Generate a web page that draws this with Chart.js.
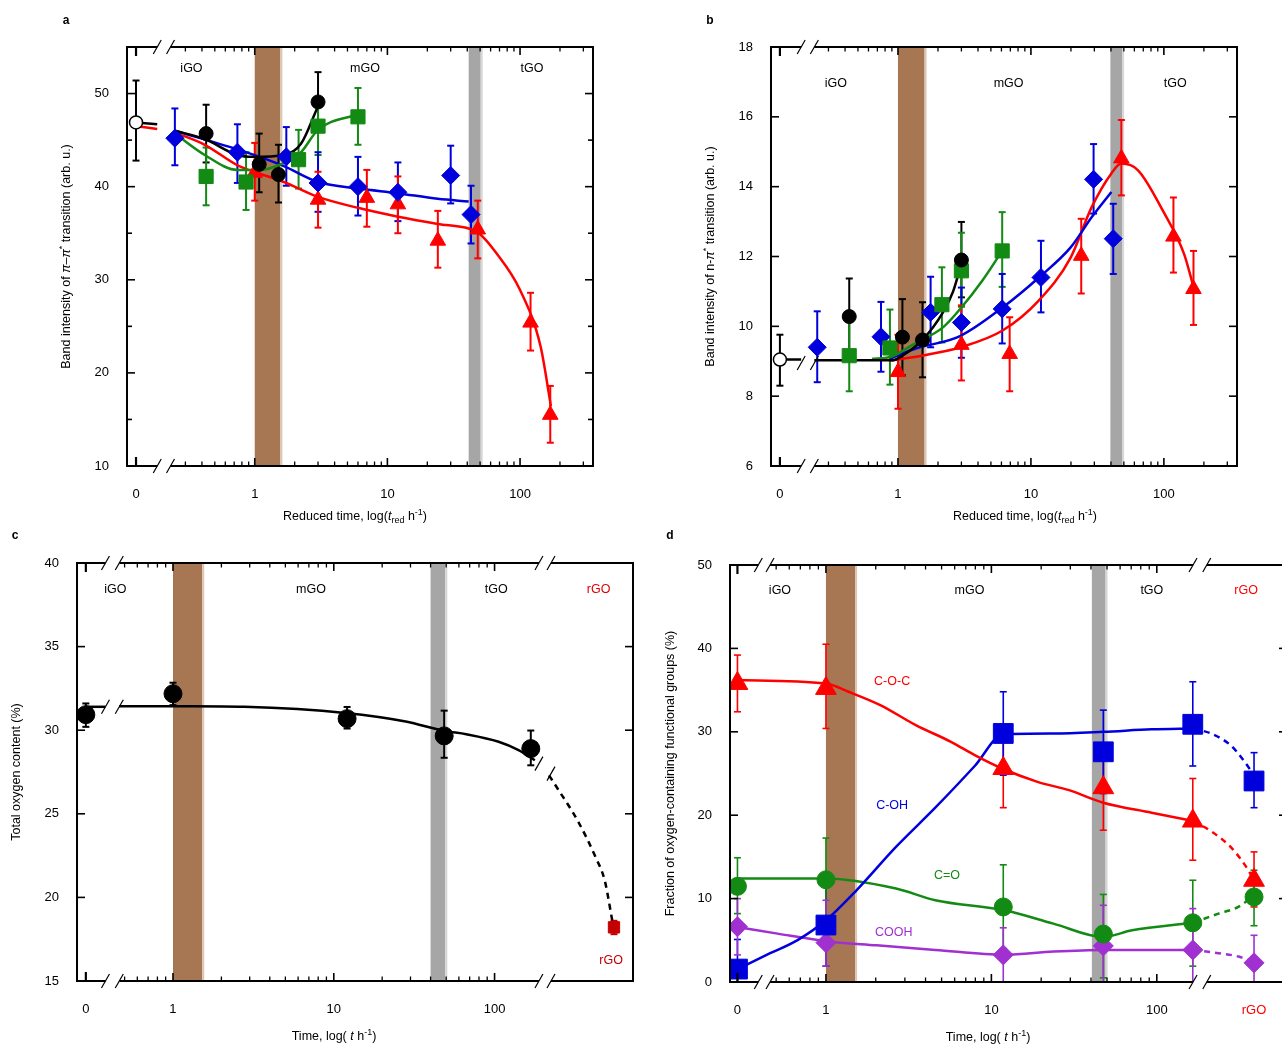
<!DOCTYPE html>
<html>
<head>
<meta charset="utf-8">
<title>GO reduction</title>
<script src="https://cdn.jsdelivr.net/npm/chart.js@4.4.1/dist/chart.umd.min.js"></script>
<style>
  html, body { margin: 0; padding: 0; background: #fff; }
  body { width: 1282px; height: 1047px; overflow: hidden; position: relative; }
  canvas { position: absolute; }
</style>
</head>
<body>
<script>
const FONT = "'Liberation Sans', Arial, Helvetica, sans-serif";
const BLACK = '#000000', RED = '#ff0000', BLUE = '#0000dd', GREEN = '#138a13',
      PURPLE = '#a030d0', BROWN = '#a67752', GRAY = '#a6a6a6', DARKRED = '#c40000';

// ---------- panel a : pi-pi* band intensity ----------
const aOpenT = [0], aOpenY = [46.9], aOpenLo = [42.8], aOpenHi = [51.4];
const aBlackT = [0.43, 1.08, 1.51, 3.0];
const aBlackY = [45.7, 42.4, 41.3, 49.1];
const aBlackLo = [42.6, 39.4, 38.3, 46.0];
const aBlackHi = [48.8, 45.7, 44.5, 52.3];
const aGreenT = [0.43, 0.86, 2.14, 3.0, 6.0];
const aGreenY = [41.1, 40.5, 42.9, 46.5, 47.5];
const aGreenLo = [38.0, 37.5, 39.8, 43.4, 44.5];
const aGreenHi = [44.2, 43.7, 46.1, 49.5, 50.6];
const aBlueT = [0.25, 0.74, 1.73, 3.0, 6.0, 12, 30, 42.7];
const aBlueY = [45.2, 43.7, 43.2, 40.4, 40.0, 39.4, 41.2, 37.0];
const aBlueLo = [42.3, 40.4, 40.1, 37.3, 36.9, 36.3, 38.2, 33.9];
const aBlueHi = [48.4, 46.7, 46.4, 43.7, 43.2, 42.6, 44.4, 40.1];
const aRedT = [1.0, 3.0, 7.0, 12, 24, 48, 120, 169];
const aRedY = [41.5, 38.6, 38.8, 38.1, 34.2, 35.4, 25.4, 15.5];
const aRedLo = [38.5, 35.6, 35.7, 35.0, 31.3, 32.3, 22.4, 12.5];
const aRedHi = [44.7, 41.6, 41.8, 41.1, 37.4, 38.5, 28.6, 18.6];
// guide curves
const aBlackPreT = [0, 0.184], aBlackPreY = [46.9, 46.7];
const aRedPreT = [0, 0.184], aRedPreY = [46.5, 46.2];
const aBlackFitT = [0.25, 0.42, 0.74, 0.97, 1.66, 2.23, 2.95];
const aBlackFitY = [46.0, 45.1, 43.4, 43.2, 43.4, 44.6, 48.4];
const aGreenFitT = [0.25, 0.42, 0.74, 1.09, 1.51, 2.2, 3.0, 6.0];
const aGreenFitY = [45.7, 43.4, 41.8, 41.8, 42.3, 43.6, 46.1, 47.8];
const aBlueFitT = [0.25, 0.74, 1.09, 1.66, 3.0, 6.1, 11.9, 24, 41];
const aBlueFitY = [46.0, 44.0, 43.2, 42.2, 40.5, 39.8, 39.3, 38.7, 38.4];
const aRedFitT = [0.25, 0.42, 0.74, 1.09, 1.66, 3.0, 6.1, 11.8, 24, 41, 49, 66, 100, 143, 171];
const aRedFitY = [45.8, 44.5, 42.3, 41.4, 40.5, 38.9, 37.7, 36.8, 36.0, 35.5, 35.0, 32.9, 28.9, 22.8, 16.4];

// ---------- panel b : n-pi* band intensity ----------
const bOpenT = [0], bOpenY = [9.05], bOpenLo = [8.3], bOpenHi = [9.76];
const bBlackT = [0.43, 1.08, 1.53, 3.0];
const bBlackY = [10.28, 9.69, 9.61, 11.9];
const bBlackLo = [9.2, 8.6, 8.54, 10.83];
const bBlackHi = [11.37, 10.78, 10.69, 12.99];
const bGreenT = [0.43, 0.87, 2.14, 3.0, 6.08];
const bGreenY = [9.16, 9.38, 10.62, 11.59, 12.16];
const bGreenLo = [8.14, 8.33, 9.54, 10.56, 11.13];
const bGreenHi = [10.2, 10.48, 11.69, 12.68, 13.27];
const bBlueT = [0.247, 0.745, 1.76, 3.0, 6.08, 11.9, 29.6, 41.6];
const bBlueY = [9.4, 9.7, 10.4, 10.11, 10.5, 11.4, 14.21, 12.51];
const bBlueLo = [8.4, 8.7, 9.4, 9.1, 9.51, 10.4, 13.23, 11.5];
const bBlueHi = [10.43, 10.7, 11.42, 11.11, 11.5, 12.45, 15.22, 13.51];
const bRedT = [1.0, 3.0, 6.92, 23.9, 47.9, 118, 167];
const bRedY = [8.69, 9.47, 9.21, 12.02, 14.81, 12.57, 11.07];
const bRedLo = [7.64, 8.45, 8.14, 10.94, 13.75, 11.54, 10.04];
const bRedHi = [9.76, 10.6, 10.26, 13.08, 15.91, 13.69, 12.16];
const bBlackPreT = [0, 0.187], bBlackPreY = [9.05, 9.05];
const bBlackFitT = [0.235, 0.92, 1.08, 1.51, 2.18, 2.6, 3.0];
const bBlackFitY = [9.03, 9.03, 9.16, 9.59, 10.4, 11.0, 11.8];
const bGreenFitT = [0.64, 0.87, 1.33, 2.18, 3.0, 4.29, 6.08];
const bGreenFitY = [9.07, 9.12, 9.5, 9.97, 10.54, 11.3, 12.16];
const bBlueFitT = [0.87, 1.33, 2.96, 6.12, 11.9, 19.9, 28.7, 40.3];
const bBlueFitY = [9.07, 9.35, 9.73, 10.54, 11.45, 12.26, 13.13, 13.85];
const bRedFitT = [0.87, 1.51, 2.96, 6.12, 11.4, 19.9, 28.7, 40.3, 47.9, 63.9, 98, 142, 170];
const bRedFitY = [9.02, 9.16, 9.4, 9.88, 10.73, 11.97, 13.42, 14.38, 14.66, 14.47, 13.32, 12.07, 11.02];

// ---------- panel c : total oxygen content ----------
const RGO_C = 553;
const cT = [0, 1, 12.1, 48.6, 168];
const cY = [30.93, 32.18, 30.69, 29.66, 28.9];
const cLo = [30.2, 31.5, 30.1, 28.35, 27.9];
const cHi = [31.6, 32.84, 31.39, 31.17, 29.98];
const cRgoY = [18.21], cRgoLo = [17.8], cRgoHi = [18.6];
const cPreT = [0, 0.38], cPreY = [31.4, 31.4];
const cFitT = [0.463, 1.31, 2.78, 11.8, 28, 48.6, 66.7, 106, 141, 178];
const cFitY = [31.43, 31.43, 31.4, 31.03, 30.52, 29.96, 29.76, 29.31, 28.81, 28.2];
const cTailT = [218, 247, 330, 426, 485, 540];
const cTailY = [27.3, 26.5, 24.56, 22.38, 20.99, 18.6];

// ---------- panel d : oxygen functional groups ----------
const RGO_D = 387;
const dT = [0, 1, 11.8, 47.5, 165, RGO_D];
const cocY = [35.8, 35.2, 25.6, 23.3, 19.3, 12.2];
const cocLo = [32.4, 30.4, 20.9, 18.2, 14.6, 9.0];
const cocHi = [39.2, 40.5, 29.5, 27.8, 24.4, 15.6];
const cohY = [1.55, 6.83, 29.8, 27.6, 30.9, 24.1];
const cohLo = [0, 1.9, 24.8, 22.6, 25.9, 20.9];
const cohHi = [5.1, 11.8, 34.8, 32.6, 36.0, 27.5];
const coY = [11.47, 12.26, 9.0, 5.75, 7.1, 10.2];
const coLo = [8.2, 7.0, 4.0, 0.5, 1.9, 6.75];
const coHi = [14.9, 17.26, 14.05, 10.5, 12.2, 13.4];
const coohY = [6.63, 4.72, 3.25, 4.33, 3.85, 2.3];
const coohLo = [3.25, 1.9, 0, 0, 0, 0];
const coohHi = [10.0, 9.8, 6.5, 9.2, 8.8, 5.6];
const dRedFitT = [0, 1, 1.37, 2.13, 3.49, 5.7, 7.93, 11.6, 19, 29.5, 47.5, 93, 166];
const dRedFitY = [36.2, 35.8, 34.8, 33.2, 30.8, 28.8, 27.2, 25.6, 24.0, 23.0, 21.5, 20.3, 19.3];
const dRedTailT = [166, 212, 279, 347, 387], dRedTailY = [19.3, 18.1, 16.2, 13.8, 12.2];
const dBlueFitT = [0, 0.46, 0.67, 1, 1.53, 2.65, 4.58, 7.93, 11.8, 23.7, 47.5, 93, 166];
const dBlueFitY = [1.55, 3.45, 5.0, 7.4, 11.0, 16.2, 20.9, 25.9, 29.7, 29.8, 30.0, 30.3, 30.4];
const dBlueTailT = [166, 212, 279, 328, 387], dBlueTailY = [30.4, 29.8, 28.4, 26.8, 24.8];
const dGreenFitT = [0, 1, 2.65, 4.58, 12, 23.7, 47.5, 70.8, 166];
const dGreenFitY = [12.4, 12.4, 11.2, 9.8, 8.6, 7.0, 5.4, 6.2, 7.1];
const dGreenTailT = [166, 236, 311, 387], dGreenTailY = [7.1, 8.2, 9.0, 10.4];
const dPurpleFitT = [0, 0.51, 1, 2.02, 4.58, 12, 23.7, 47.5, 166];
const dPurpleFitY = [6.6, 5.8, 4.9, 4.4, 3.85, 3.25, 3.65, 3.85, 3.85];
const dPurpleTailT = [166, 236, 311, 387], dPurpleTailY = [3.85, 3.45, 3.05, 2.34];

// tick values on the log axis
const minorAB = [0.3, 0.4, 0.5, 0.6, 0.7, 0.8, 0.9, 2, 3, 4, 5, 6, 7, 8, 9, 20, 30, 40, 50, 60, 70, 80, 90, 200, 300];
const minorCD = [0.5, 0.6, 0.7, 0.8, 0.9, 2, 3, 4, 5, 6, 7, 8, 9, 20, 30, 40, 50, 60, 70, 80, 90];
const majorT = [1, 10, 100];

// axis-space helpers (x axis is log10(t) with t = 0 placed before a break)
const YW = 75, XH = 66, PT = 45, PR = 12;

function seg(ctx, x1, y1, x2, y2) { ctx.beginPath(); ctx.moveTo(x1, y1); ctx.lineTo(x2, y2); ctx.stroke(); }
function slash(ctx, cx, cy) { seg(ctx, cx - 4, cy + 7, cx + 4, cy - 7); }

function richText(ctx, segs, cx, cy, rotate, size) {
  const fonts = { n: size + 'px ' + FONT, i: 'italic ' + size + 'px ' + FONT,
                  sub: (size * 0.72) + 'px ' + FONT, sup: (size * 0.72) + 'px ' + FONT };
  const shift = { n: 0, i: 0, sub: size * 0.32, sup: -size * 0.38 };
  ctx.save();
  ctx.translate(cx, cy);
  if (rotate) ctx.rotate(-Math.PI / 2);
  ctx.textBaseline = 'middle'; ctx.textAlign = 'left'; ctx.fillStyle = '#000';
  let total = 0;
  const ws = segs.map(([t, k]) => { ctx.font = fonts[k]; const w = ctx.measureText(t).width; total += w; return w; });
  let xx = -total / 2;
  segs.forEach(([t, k], i) => { ctx.font = fonts[k]; ctx.fillText(t, xx, shift[k]); xx += ws[i]; });
  ctx.restore();
}

const piTitle = [['Band intensity of ', 'n'], ['\u03c0', 'i'], ['\u2013', 'n'], ['\u03c0', 'i'], ['*', 'sup'], [' transition (arb. u.)', 'n']];
const npiTitle = [['Band intensity of n-', 'n'], ['\u03c0', 'i'], ['*', 'sup'], [' transition (arb. u.)', 'n']];
const redTimeTitle = [['Reduced time, log(', 'n'], ['t', 'i'], ['red', 'sub'], [' h', 'n'], ['-1', 'sup'], [')', 'n']];
const timeTitle = [['Time, log( ', 'n'], ['t', 'i'], [' h', 'n'], ['-1', 'sup'], [')', 'n']];

function panelPlugin(p) {
  return {
    id: 'panel_' + p.id,
    beforeDatasetsDraw(chart) {
      const { ctx, chartArea: ca, scales: { x, y } } = chart;
      ctx.save();
      p.bands.forEach(([t1, t2, col, edge]) => {
        const x1 = x.getPixelForValue(p.ux(t1)), x2 = x.getPixelForValue(p.ux(t2));
        ctx.fillStyle = col; ctx.fillRect(x1, ca.top, x2 - x1, ca.bottom - ca.top);
        ctx.fillStyle = edge; ctx.fillRect(x2, ca.top, 2, ca.bottom - ca.top);
      });
      p.errs.forEach(e => {
        ctx.strokeStyle = e.color; ctx.lineWidth = p.errW;
        e.t.forEach((t, i) => {
          const px = x.getPixelForValue(p.ux(t));
          const lo = Math.max(e.lo[i], y.min);
          const yl = y.getPixelForValue(lo), yh = y.getPixelForValue(e.hi[i]);
          seg(ctx, px, yl, px, yh);
          if (e.lo[i] > y.min) seg(ctx, px - p.cap, yl, px + p.cap, yl);
          seg(ctx, px - p.cap, yh, px + p.cap, yh);
        });
      });
      ctx.restore();
    },
    afterDraw(chart) {
      const { ctx, chartArea: ca, scales: { x, y } } = chart;
      const X = u => x.getPixelForValue(u);
      ctx.save();
      ctx.strokeStyle = '#000';
      ctx.lineWidth = 2;
      seg(ctx, ca.left, ca.top - 1, ca.left, ca.bottom + 1);
      seg(ctx, ca.right, ca.top - 1, ca.right, ca.bottom + 1);
      const cuts = [ca.left];
      p.breaks.forEach(b => cuts.push(X(b[0]), X(b[1])));
      cuts.push(ca.right);
      [ca.top, ca.bottom].forEach(yy => {
        ctx.lineWidth = 2;
        for (let i = 0; i < cuts.length; i += 2) seg(ctx, cuts[i], yy, cuts[i + 1], yy);
        ctx.lineWidth = 1.2;
        p.breaks.forEach(b => b.forEach(u => slash(ctx, X(u), yy)));
      });
      // x ticks, inward on both sides
      const xt = [[p.u0, 9, 2.2]].concat(majorT.map(t => [Math.log10(t), 8, 1.6]), p.minorT.map(t => [Math.log10(t), 4.5, 1.3]));
      xt.forEach(([u, len, lw]) => {
        const px = X(u); ctx.lineWidth = lw;
        seg(ctx, px, ca.bottom, px, ca.bottom - len);
        seg(ctx, px, ca.top, px, ca.top + len);
      });
      // y ticks
      ctx.lineWidth = 1.6;
      p.yTicks.concat(p.yMinor).forEach(v => {
        const py = y.getPixelForValue(v), len = p.yMinor.includes(v) ? 5 : 8;
        seg(ctx, ca.left, py, ca.left + len, py);
        seg(ctx, ca.right, py, ca.right - len, py);
      });
      // breaks on curves
      ctx.lineWidth = 1.2;
      p.cbreaks.forEach(([u, v]) => slash(ctx, X(u), y.getPixelForValue(v)));
      // labels inside the plot
      ctx.textAlign = 'center'; ctx.textBaseline = 'middle';
      ctx.font = '12.5px ' + FONT;
      p.texts.forEach(([u, v, s, col]) => {
        ctx.fillStyle = col || '#000';
        ctx.fillText(s, X(u), y.getPixelForValue(v));
      });
      // axis titles and panel letter
      richText(ctx, p.yTitle, p.yTitleX - p.ox, (ca.top + ca.bottom) / 2, true, 12.5);
      richText(ctx, p.xTitle, p.xTitlePos[0] - p.ox, p.xTitlePos[1] - p.oy, false, 12.5);
      ctx.fillStyle = '#000'; ctx.font = 'bold 12px ' + FONT; ctx.textAlign = 'center';
      ctx.fillText(p.letter, p.letterPos[0] - p.ox, p.letterPos[1] - p.oy);
      ctx.restore();
    }
  };
}

function makeUx(u0) { return t => (t === 0 ? u0 : Math.log10(t)); }
function pts(p, ts, ys) { return ts.map((t, i) => ({ x: p.ux(t), y: ys[i] })); }
function markers(p, ts, ys, color, style, r, fill) {
  return { data: pts(p, ts, ys), showLine: false, pointStyle: style, pointRadius: r, pointHoverRadius: r,
           pointBackgroundColor: fill || color, pointBorderColor: color, pointBorderWidth: fill ? 1.5 : 1, order: 0 };
}
function curve(p, ts, ys, color, dashed) {
  return { data: pts(p, ts, ys), borderColor: color, borderWidth: 2.5, pointRadius: 0,
           cubicInterpolationMode: 'monotone', borderDash: dashed ? [6, 5] : [], order: 5 };
}

function buildPanel(p) {
  const left = p.area.l - YW, top = p.area.t - PT;
  const w = p.area.r - p.area.l + YW + PR, h = p.area.b - p.area.t + PT + XH;
  p.ox = left; p.oy = top;
  const cv = document.createElement('canvas');
  cv.width = w; cv.height = h;
  cv.style.left = left + 'px'; cv.style.top = top + 'px';
  cv.style.width = w + 'px'; cv.style.height = h + 'px';
  document.body.appendChild(cv);
  new Chart(cv, {
    type: 'line',
    data: { datasets: p.datasets(p) },
    options: {
      responsive: false, animation: false, devicePixelRatio: 1, events: [],
      layout: { padding: { left: 0, top: PT, right: PR, bottom: 0 } },
      plugins: { legend: { display: false }, tooltip: { enabled: false } },
      scales: {
        x: {
          type: 'linear', min: p.xmin, max: p.xmax,
          grid: { display: false }, border: { display: false },
          afterBuildTicks: s => { s.ticks = p.xLabels.map(l => ({ value: l.u })); },
          afterFit: s => { s.height = XH; },
          ticks: {
            autoSkip: false, maxRotation: 0, padding: 13, font: { family: FONT, size: 13 },
            color: c => (p.xLabels[c.index] && p.xLabels[c.index].color) || '#000',
            callback: (v, i) => (p.xLabels[i] ? p.xLabels[i].text : '')
          }
        },
        y: {
          min: p.ymin, max: p.ymax,
          grid: { display: false }, border: { display: false },
          afterBuildTicks: s => { s.ticks = p.yTicks.map(v => ({ value: v })); },
          afterFit: s => { s.width = YW; },
          ticks: { padding: 10, color: '#000', font: { family: FONT, size: 13 } }
        }
      }
    },
    plugins: [panelPlugin(p)]
  });
}

const panels = [
  {
    id: 'a', letter: 'a', letterPos: [66, 21], area: { l: 127, t: 47, r: 593, b: 466 },
    u0: -0.895, xmin: -0.963, xmax: 2.55, ymin: 10, ymax: 55,
    yTicks: [10, 20, 30, 40, 50], yMinor: [15, 25, 35, 45], minorT: minorAB,
    breaks: [[-0.735, -0.635]], cbreaks: [],
    bands: [[1, 1.56, BROWN, '#dcc6b3'], [41, 50.5, GRAY, '#d6d6d6']],
    texts: [[-0.477, 52.7, 'iGO'], [0.831, 52.7, 'mGO'], [2.09, 52.7, 'tGO']],
    yTitle: piTitle, yTitleX: 67, xTitle: redTimeTitle, xTitlePos: [355, 517],
    errW: 2, cap: 3.5,
    errs: [
      { t: aOpenT, lo: aOpenLo, hi: aOpenHi, color: BLACK },
      { t: aBlackT, lo: aBlackLo, hi: aBlackHi, color: BLACK },
      { t: aGreenT, lo: aGreenLo, hi: aGreenHi, color: GREEN },
      { t: aBlueT, lo: aBlueLo, hi: aBlueHi, color: BLUE },
      { t: aRedT, lo: aRedLo, hi: aRedHi, color: RED }
    ],
    datasets: p => [
      markers(p, aOpenT, aOpenY, BLACK, 'circle', 6.5, '#ffffff'),
      markers(p, aBlackT, aBlackY, BLACK, 'circle', 7),
      markers(p, aGreenT, aGreenY, GREEN, 'rect', 10),
      markers(p, aBlueT, aBlueY, BLUE, 'rectRot', 9),
      markers(p, aRedT, aRedY, RED, 'triangle', 9),
      curve(p, aBlackPreT, aBlackPreY, BLACK),
      curve(p, aRedPreT, aRedPreY, RED),
      curve(p, aBlackFitT, aBlackFitY, BLACK),
      curve(p, aGreenFitT, aGreenFitY, GREEN),
      curve(p, aBlueFitT, aBlueFitY, BLUE),
      curve(p, aRedFitT, aRedFitY, RED)
    ]
  },
  {
    id: 'b', letter: 'b', letterPos: [710, 21], area: { l: 771, t: 47, r: 1237, b: 466 },
    u0: -0.888, xmin: -0.955, xmax: 2.55, ymin: 6, ymax: 18,
    yTicks: [6, 8, 10, 12, 14, 16, 18], yMinor: [], minorT: minorAB,
    breaks: [[-0.728, -0.629]], cbreaks: [[-0.728, 8.95], [-0.629, 8.95]],
    bands: [[1, 1.585, BROWN, '#dcc6b3'], [39.6, 48.5, GRAY, '#d6d6d6']],
    texts: [[-0.467, 16.96, 'iGO'], [0.832, 16.96, 'mGO'], [2.085, 16.96, 'tGO']],
    yTitle: npiTitle, yTitleX: 711, xTitle: redTimeTitle, xTitlePos: [1025, 517],
    errW: 2, cap: 3.5,
    errs: [
      { t: bOpenT, lo: bOpenLo, hi: bOpenHi, color: BLACK },
      { t: bBlackT, lo: bBlackLo, hi: bBlackHi, color: BLACK },
      { t: bGreenT, lo: bGreenLo, hi: bGreenHi, color: GREEN },
      { t: bBlueT, lo: bBlueLo, hi: bBlueHi, color: BLUE },
      { t: bRedT, lo: bRedLo, hi: bRedHi, color: RED }
    ],
    datasets: p => [
      markers(p, bOpenT, bOpenY, BLACK, 'circle', 6.5, '#ffffff'),
      markers(p, bBlackT, bBlackY, BLACK, 'circle', 7),
      markers(p, bGreenT, bGreenY, GREEN, 'rect', 10),
      markers(p, bBlueT, bBlueY, BLUE, 'rectRot', 9),
      markers(p, bRedT, bRedY, RED, 'triangle', 9),
      curve(p, bBlackPreT, bBlackPreY, BLACK),
      curve(p, bBlackFitT, bBlackFitY, BLACK),
      curve(p, bGreenFitT, bGreenFitY, GREEN),
      curve(p, bBlueFitT, bBlueFitY, BLUE),
      curve(p, bRedFitT, bRedFitY, RED)
    ]
  },
  {
    id: 'c', letter: 'c', letterPos: [15, 536], area: { l: 77, t: 563, r: 633, b: 981 },
    u0: -0.542, xmin: -0.597, xmax: 2.861, ymin: 15, ymax: 40,
    yTicks: [15, 20, 25, 30, 35, 40], yMinor: [], minorT: minorCD,
    breaks: [[-0.42, -0.334], [2.276, 2.351]],
    cbreaks: [[-0.42, 31.4], [-0.334, 31.4], [2.276, 28.0], [2.351, 27.4]],
    bands: [[1, 1.52, BROWN, '#dcc6b3'], [40, 49.4, GRAY, '#d6d6d6']],
    texts: [[-0.359, 38.4, 'iGO'], [0.858, 38.4, 'mGO'], [2.01, 38.4, 'tGO'],
            [2.647, 38.4, 'rGO', '#e00000'], [2.725, 16.2, 'rGO', DARKRED]],
    yTitle: [['Total oxygen content (%)', 'n']], yTitleX: 17, xTitle: timeTitle, xTitlePos: [334, 1037],
    errW: 2, cap: 3.5,
    errs: [
      { t: cT, lo: cLo, hi: cHi, color: BLACK },
      { t: [RGO_C], lo: cRgoLo, hi: cRgoHi, color: DARKRED }
    ],
    datasets: p => [
      markers(p, cT, cY, BLACK, 'circle', 9),
      markers(p, [RGO_C], cRgoY, DARKRED, 'rect', 8),
      curve(p, cPreT, cPreY, BLACK),
      curve(p, cFitT, cFitY, BLACK),
      curve(p, cTailT, cTailY, BLACK, true)
    ]
  },
  {
    id: 'd', letter: 'd', letterPos: [670, 536], area: { l: 730, t: 565, r: 1290, b: 982 },
    u0: -0.535, xmin: -0.58, xmax: 2.787, ymin: 0, ymax: 50,
    yTicks: [0, 10, 20, 30, 40, 50], yMinor: [], minorT: minorCD,
    breaks: [[-0.409, -0.338], [2.219, 2.302]], cbreaks: [],
    bands: [[1, 1.5, BROWN, '#dcc6b3'], [40.5, 49, GRAY, '#d6d6d6']],
    texts: [[-0.278, 46.9, 'iGO'], [0.868, 46.9, 'mGO'], [1.97, 46.9, 'tGO'], [2.54, 46.9, 'rGO', RED],
            [0.40, 36.0, 'C-O-C', RED], [0.40, 21.1, 'C-OH', BLUE], [0.732, 12.8, 'C=O', GREEN],
            [0.41, 5.9, 'COOH', PURPLE]],
    yTitle: [['Fraction of oxygen-containing functional groups (%)', 'n']], yTitleX: 671,
    xTitle: timeTitle, xTitlePos: [988, 1038],
    errW: 1.6, cap: 3.5,
    errs: [
      { t: dT, lo: cocLo, hi: cocHi, color: RED },
      { t: dT, lo: cohLo, hi: cohHi, color: BLUE },
      { t: dT, lo: coLo, hi: coHi, color: GREEN },
      { t: dT, lo: coohLo, hi: coohHi, color: PURPLE }
    ],
    datasets: p => [
      markers(p, dT, cohY, BLUE, 'rect', 14),
      markers(p, dT, cocY, RED, 'triangle', 12),
      markers(p, dT, coY, GREEN, 'circle', 9),
      markers(p, dT, coohY, PURPLE, 'rectRot', 10),
      curve(p, dRedFitT, dRedFitY, RED), curve(p, dRedTailT, dRedTailY, RED, true),
      curve(p, dBlueFitT, dBlueFitY, BLUE), curve(p, dBlueTailT, dBlueTailY, BLUE, true),
      curve(p, dGreenFitT, dGreenFitY, GREEN), curve(p, dGreenTailT, dGreenTailY, GREEN, true),
      curve(p, dPurpleFitT, dPurpleFitY, PURPLE), curve(p, dPurpleTailT, dPurpleTailY, PURPLE, true)
    ]
  }
];

panels.forEach(p => {
  p.ux = makeUx(p.u0);
  p.xLabels = [{ u: p.u0, text: '0' }, { u: 0, text: '1' }, { u: 1, text: '10' }, { u: 2, text: '100' }];
  if (p.id === 'd') p.xLabels.push({ u: Math.log10(RGO_D), text: 'rGO', color: RED });
  buildPanel(p);
});
</script>
</body>
</html>
